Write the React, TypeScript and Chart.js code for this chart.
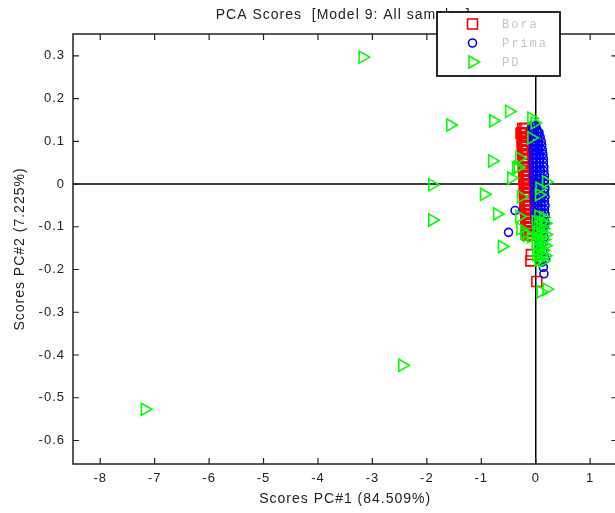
import React, { useEffect, useRef } from "react";
import { Chart, registerables } from "chart.js";

Chart.register(...registerables);

const chartTitle = "PCA Scores  [Model 9: All samples]";
const xAxisTitle = "Scores PC#1 (84.509%)";
const yAxisTitle = "Scores PC#2 (7.225%)";
const seriesNames = ["Bora", "Prima", "PD"];
const seriesColors = ["#ff0000", "#0000ff", "#00ff00"];
const xTickValues = [-8, -7, -6, -5, -4, -3, -2, -1, 0, 1];
const yTickValues = [0.3, 0.2, 0.1, 0, -0.1, -0.2, -0.3, -0.4, -0.5, -0.6];
const xLimits = [-8.5, 1.5];
const yLimits = [-0.655, 0.351];

const boraPoints: [number, number][] = [
  [-0.24, 0.13], [-0.21, 0.13], [-0.18, 0.13],
  [-0.26, 0.12], [-0.22, 0.12], [-0.19, 0.12],
  [-0.25, 0.11], [-0.21, 0.11], [-0.17, 0.11],
  [-0.24, 0.1], [-0.2, 0.1], [-0.17, 0.1],
  [-0.25, 0.09], [-0.22, 0.09], [-0.18, 0.09],
  [-0.23, 0.08], [-0.2, 0.08], [-0.16, 0.08],
  [-0.24, 0.07], [-0.19, 0.07], [-0.16, 0.07],
  [-0.23, 0.06], [-0.2, 0.06], [-0.17, 0.06],
  [-0.22, 0.05], [-0.18, 0.05], [-0.15, 0.05],
  [-0.23, 0.04], [-0.19, 0.04], [-0.16, 0.04],
  [-0.22, 0.03], [-0.18, 0.03], [-0.15, 0.03],
  [-0.21, 0.02], [-0.17, 0.02], [-0.14, 0.02],
  [-0.22, 0.01], [-0.18, 0.01], [-0.15, 0.01],
  [-0.21, 0.0], [-0.17, 0.0], [-0.13, 0.0],
  [-0.2, -0.01], [-0.16, -0.01], [-0.13, -0.01],
  [-0.21, -0.02], [-0.17, -0.02], [-0.14, -0.02],
  [-0.2, -0.03], [-0.16, -0.03], [-0.12, -0.03],
  [-0.19, -0.04], [-0.15, -0.04], [-0.12, -0.04],
  [-0.2, -0.05], [-0.16, -0.05], [-0.13, -0.05],
  [-0.19, -0.06], [-0.15, -0.06], [-0.11, -0.06],
  [-0.18, -0.07], [-0.14, -0.07], [-0.11, -0.07],
  [-0.18, -0.08], [-0.15, -0.08], [-0.12, -0.08],
  [-0.17, -0.09], [-0.14, -0.09], [-0.1, -0.09],
  [-0.17, -0.1], [-0.13, -0.1], [-0.1, -0.1],
  [-0.16, -0.11], [-0.13, -0.11], [-0.1, -0.11],
  [-0.15, -0.12], [-0.12, -0.12], [-0.09, -0.12],
  [0.0, 0.017], [-0.09, -0.18], [-0.08, -0.165], [0.02, -0.228], [-0.27, 0.118],
];

const primaPoints: [number, number][] = [
  [-0.07, 0.136], [-0.03, 0.136], [0.0, 0.136],
  [-0.06, 0.128], [-0.02, 0.128], [0.02, 0.128],
  [-0.06, 0.12], [-0.02, 0.12], [0.03, 0.12], [0.06, 0.12],
  [-0.05, 0.11], [-0.01, 0.11], [0.04, 0.11], [0.08, 0.11],
  [-0.05, 0.1], [0.0, 0.1], [0.05, 0.1], [0.1, 0.1],
  [-0.04, 0.09], [0.01, 0.09], [0.06, 0.09], [0.11, 0.09],
  [-0.05, 0.08], [0.0, 0.08], [0.05, 0.08], [0.12, 0.08],
  [-0.04, 0.07], [0.01, 0.07], [0.07, 0.07], [0.13, 0.07],
  [-0.04, 0.06], [0.02, 0.06], [0.08, 0.06], [0.14, 0.06],
  [-0.05, 0.05], [0.01, 0.05], [0.07, 0.05], [0.14, 0.05],
  [-0.04, 0.04], [0.02, 0.04], [0.08, 0.04], [0.15, 0.04],
  [-0.03, 0.03], [0.02, 0.03], [0.09, 0.03], [0.15, 0.03],
  [-0.04, 0.02], [0.01, 0.02], [0.08, 0.02], [0.16, 0.02],
  [-0.03, 0.01], [0.03, 0.01], [0.09, 0.01], [0.16, 0.01],
  [-0.03, 0.0], [0.02, 0.0], [0.09, 0.0], [0.16, 0.0],
  [-0.02, -0.01], [0.03, -0.01], [0.1, -0.01], [0.17, -0.01],
  [-0.03, -0.02], [0.03, -0.02], [0.09, -0.02], [0.16, -0.02],
  [-0.02, -0.03], [0.04, -0.03], [0.1, -0.03], [0.17, -0.03],
  [-0.02, -0.04], [0.03, -0.04], [0.1, -0.04], [0.16, -0.04],
  [-0.01, -0.05], [0.04, -0.05], [0.1, -0.05], [0.17, -0.05],
  [-0.02, -0.06], [0.04, -0.06], [0.1, -0.06], [0.16, -0.06],
  [-0.01, -0.07], [0.05, -0.07], [0.11, -0.07], [0.17, -0.07],
  [-0.01, -0.08], [0.04, -0.08], [0.1, -0.08], [0.16, -0.08],
  [0.0, -0.09], [0.05, -0.09], [0.11, -0.09], [0.17, -0.09],
  [0.0, -0.1], [0.06, -0.1], [0.12, -0.1], [0.16, -0.1],
  [0.01, -0.11], [0.06, -0.11], [0.12, -0.11],
  [0.03, -0.125], [0.09, -0.125], [0.15, -0.125],
  [0.06, -0.14], [0.11, -0.14],
  [0.08, -0.155], [0.13, -0.155],
  [-0.38, -0.062], [-0.5, -0.113], [0.11, -0.183], [0.15, -0.21], [0.14, -0.195], [0.18, -0.175],
];

const pdPoints: [number, number][] = [
  [-7.18, -0.527], [-3.18, 0.297], [-2.45, -0.424], [-1.57, 0.138], [-1.9, -0.002], [-1.9, -0.084],
  [-0.49, 0.17], [-0.78, 0.148], [-0.8, 0.054], [-0.95, -0.024], [-0.71, -0.07], [-0.62, -0.146],
  [-0.45, 0.014], [-0.36, 0.037], [-0.3, 0.061], [-0.33, 0.04], [-0.27, -0.03], [-0.3, -0.076],
  [-0.28, -0.105], [-0.21, -0.115], [-0.08, -0.123], [-0.16, -0.12],
  [-0.08, 0.154], [-0.02, 0.143], [-0.08, 0.108], [0.07, -0.01],
  [0.06, -0.025], [0.19, 0.005],
  [0.05, -0.075], [0.14, -0.078],
  [0.0, -0.088], [0.09, -0.09], [0.17, -0.092],
  [0.04, -0.102], [0.13, -0.104],
  [0.01, -0.115], [0.09, -0.116], [0.18, -0.118],
  [0.05, -0.128], [0.14, -0.13],
  [0.0, -0.14], [0.09, -0.142], [0.17, -0.144],
  [0.04, -0.153], [0.13, -0.155],
  [0.01, -0.165], [0.09, -0.167], [0.17, -0.168],
  [0.05, -0.178], [0.13, -0.18],
  [0.2, -0.246], [0.09, -0.252],
];

const SANS = "'Liberation Sans', Arial, Helvetica, sans-serif";
const MONO = "'Liberation Mono', 'Courier New', monospace";
const TEXT_COLOR = "#222";

const matlabPlugin = {
  id: "matlabPlugin",
  beforeDraw(chart: any) {
    const ctx = chart.ctx;
    ctx.save();
    ctx.fillStyle = "#ffffff";
    ctx.fillRect(0, 0, chart.width, chart.height);
    ctx.restore();
    ctx.letterSpacing = "1px";
  },
  beforeDatasetsDraw(chart: any) {
    const { ctx, chartArea: a, scales } = chart;
    ctx.save();
    ctx.strokeStyle = "#000";
    ctx.lineWidth = 1.5;
    const x0 = scales.x.getPixelForValue(0);
    const y0 = scales.y.getPixelForValue(0);
    ctx.beginPath();
    ctx.moveTo(a.left, y0);
    ctx.lineTo(a.right, y0);
    ctx.moveTo(x0, a.top);
    ctx.lineTo(x0, a.bottom);
    ctx.stroke();
    ctx.strokeStyle = "#222";
    ctx.lineWidth = 1.2;
    ctx.beginPath();
    for (const v of xTickValues) {
      const px = scales.x.getPixelForValue(v);
      ctx.moveTo(px, a.bottom);
      ctx.lineTo(px, a.bottom - 6);
      ctx.moveTo(px, a.top);
      ctx.lineTo(px, a.top + 6);
    }
    for (const v of yTickValues) {
      const py = scales.y.getPixelForValue(v);
      ctx.moveTo(a.left, py);
      ctx.lineTo(a.left + 6, py);
      ctx.moveTo(a.right, py);
      ctx.lineTo(a.right - 6, py);
    }
    ctx.stroke();
    ctx.lineWidth = 1.5;
    ctx.strokeRect(a.left, a.top, a.right - a.left, a.bottom - a.top);
    ctx.restore();
  },
  afterDraw(chart: any) {
    const { ctx, chartArea: a } = chart;
    ctx.save();
    ctx.letterSpacing = "1px";
    ctx.font = `14px ${SANS}`;
    ctx.fillStyle = TEXT_COLOR;
    ctx.textAlign = "center";
    ctx.textBaseline = "middle";
    ctx.fillText(chartTitle, (a.left + a.right) / 2 - 2, 15);

    // legend box
    const bx = 437, by = 12, bw = 123, bh = 64;
    ctx.fillStyle = "#ffffff";
    ctx.fillRect(bx, by, bw, bh);
    ctx.strokeStyle = "#111";
    ctx.lineWidth = 1.8;
    ctx.strokeRect(bx, by, bw, bh);
    const rowsY = [24, 43, 62];
    const mx = 472.5;
    ctx.lineWidth = 1.6;
    ctx.strokeStyle = seriesColors[0];
    ctx.strokeRect(mx - 5, rowsY[0] - 5, 10, 10);
    ctx.strokeStyle = seriesColors[1];
    ctx.beginPath();
    ctx.arc(mx, rowsY[1], 4, 0, Math.PI * 2);
    ctx.stroke();
    ctx.strokeStyle = seriesColors[2];
    ctx.beginPath();
    ctx.moveTo(mx + 7, rowsY[2]);
    ctx.lineTo(mx - 3.5, rowsY[2] - 6);
    ctx.lineTo(mx - 3.5, rowsY[2] + 6);
    ctx.closePath();
    ctx.stroke();

    ctx.letterSpacing = "2px";
    ctx.font = `12px ${MONO}`;
    ctx.fillStyle = "#c4c4c4";
    ctx.textAlign = "left";
    seriesNames.forEach((n, i) => ctx.fillText(n, 502, rowsY[i] + 1));
    ctx.restore();
  },
};

export default function App() {
  const ref = useRef<HTMLCanvasElement | null>(null);
  useEffect(() => {
    if (!ref.current) return;
    const toData = (pts: [number, number][]) => pts.map(([x, y]) => ({ x, y }));
    const chart = new Chart(ref.current, {
      type: "scatter",
      data: {
        datasets: [
          {
            label: seriesNames[0],
            data: toData(boraPoints),
            pointStyle: "rect",
            pointRadius: 7,
            borderColor: seriesColors[0],
            backgroundColor: "rgba(0,0,0,0)",
            borderWidth: 1.6,
            order: 2,
          },
          {
            label: seriesNames[1],
            data: toData(primaPoints),
            pointStyle: "circle",
            pointRadius: 4,
            borderColor: seriesColors[1],
            backgroundColor: "rgba(0,0,0,0)",
            borderWidth: 1.6,
            order: 1,
          },
          {
            label: seriesNames[2],
            data: toData(pdPoints),
            pointStyle: "triangle",
            rotation: 90,
            pointRadius: 7,
            borderColor: seriesColors[2],
            backgroundColor: "rgba(0,0,0,0)",
            borderWidth: 1.6,
            order: 0,
          },
        ],
      },
      options: {
        responsive: false,
        maintainAspectRatio: false,
        devicePixelRatio: 1,
        animation: false,
        layout: { padding: { left: 0, top: 34, right: 8, bottom: 0 } },
        plugins: {
          legend: { display: false },
          title: { display: false },
          tooltip: { enabled: false },
        },
        scales: {
          x: {
            type: "linear",
            position: "bottom",
            min: xLimits[0],
            max: xLimits[1],
            bounds: "data",
            afterBuildTicks: (s: any) => {
              s.ticks = xTickValues.map((v) => ({ value: v }));
            },
            afterFit: (s: any) => {
              s.height = 49;
            },
            grid: { display: false, drawTicks: false },
            border: { display: false },
            ticks: {
              autoSkip: false,
              maxRotation: 0,
              padding: 7,
              color: TEXT_COLOR,
              font: { family: SANS, size: 13 },
              callback: (v: any) => String(v),
            },
            title: {
              display: true,
              text: xAxisTitle,
              color: TEXT_COLOR,
              font: { family: SANS, size: 14 },
              padding: { top: 0, bottom: 5 },
            },
          },
          y: {
            type: "linear",
            position: "left",
            min: yLimits[0],
            max: yLimits[1],
            bounds: "data",
            afterBuildTicks: (s: any) => {
              s.ticks = yTickValues.map((v) => ({ value: v }));
            },
            afterFit: (s: any) => {
              s.width = 73;
            },
            grid: { display: false, drawTicks: false },
            border: { display: false },
            ticks: {
              autoSkip: false,
              padding: 8,
              color: TEXT_COLOR,
              font: { family: SANS, size: 13 },
              callback: (v: any) => {
                const n = Number(v);
                return n === 0 ? "0" : n.toFixed(1);
              },
            },
            title: {
              display: true,
              text: yAxisTitle,
              color: TEXT_COLOR,
              font: { family: SANS, size: 14 },
              padding: { top: 12, bottom: 0 },
            },
          },
        },
      },
      plugins: [matlabPlugin],
    });
    return () => chart.destroy();
  }, []);

  return (
    <div
      style={{
        position: "fixed",
        left: 0,
        top: 0,
        width: 615,
        height: 513,
        overflow: "hidden",
        background: "#fff",
      }}
    >
      <canvas ref={ref} width={626} height={513} style={{ display: "block", width: 626, height: 513 }} />
    </div>
  );
}
